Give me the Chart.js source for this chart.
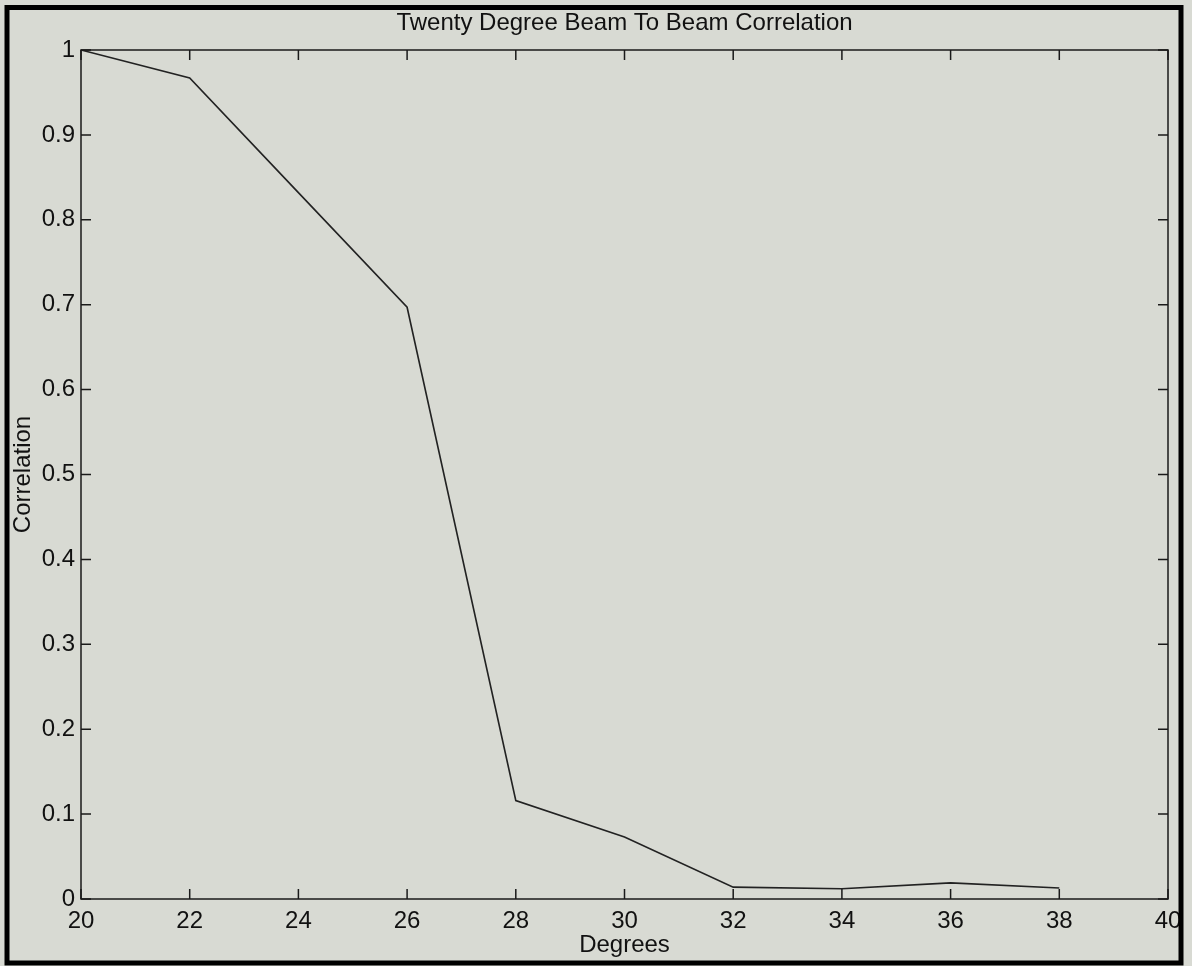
<!DOCTYPE html>
<html>
<head>
<meta charset="utf-8">
<script src="https://cdn.jsdelivr.net/npm/chart.js@4/dist/chart.umd.min.js"></script>
<style>
  html, body { margin: 0; padding: 0; background: #d8dad3; }
  #wrap { width: 1192px; height: 966px; position: relative; }
</style>
</head>
<body>
<div id="wrap"><canvas id="c" width="1192" height="966"></canvas></div>
<script>
// Data
const degrees = [20, 22, 24, 26, 28, 30, 32, 34, 36, 38];
const correlation = [1.0, 0.967, 0.832, 0.697, 0.116, 0.073, 0.014, 0.012, 0.019, 0.013];
const titleText = 'Twenty Degree Beam To Beam Correlation';
const xLabel = 'Degrees';
const yLabel = 'Correlation';

const FONT = "'Liberation Sans', Arial, Helvetica, sans-serif";
const BG = '#d8dad3';

const framePlugin = {
  id: 'frame',
  beforeDraw(chart) {
    const ctx = chart.ctx;
    ctx.save();
    ctx.fillStyle = BG;
    ctx.fillRect(0, 0, chart.width, chart.height);
    ctx.restore();
  },
  afterDatasetsDraw(chart) {
    const ctx = chart.ctx;
    const a = chart.chartArea;
    const xs = chart.scales.x, ys = chart.scales.y;
    ctx.save();
    ctx.strokeStyle = '#1a1a1a';
    ctx.lineWidth = 1.5;
    ctx.strokeRect(a.left, a.top, a.right - a.left, a.bottom - a.top);
    const tl = 10;
    ctx.beginPath();
    xs.ticks.forEach(t => {
      const px = xs.getPixelForValue(t.value);
      ctx.moveTo(px, a.bottom); ctx.lineTo(px, a.bottom - tl);
      ctx.moveTo(px, a.top); ctx.lineTo(px, a.top + tl);
    });
    ys.ticks.forEach(t => {
      const py = ys.getPixelForValue(t.value);
      ctx.moveTo(a.left, py); ctx.lineTo(a.left + tl, py);
      ctx.moveTo(a.right, py); ctx.lineTo(a.right - tl, py);
    });
    ctx.stroke();
    ctx.restore();
  },
  afterDraw(chart) {
    const ctx = chart.ctx;
    ctx.save();
    ctx.strokeStyle = '#000';
    ctx.lineWidth = 5;
    ctx.strokeRect(7, 7.5, 1181 - 7, 963 - 7.5);
    ctx.restore();
  }
};

new Chart(document.getElementById('c'), {
  type: 'line',
  data: {
    datasets: [{
      data: degrees.map((d, i) => ({ x: d, y: correlation[i] })),
      borderColor: '#222',
      borderWidth: 1.6,
      pointRadius: 0,
      tension: 0,
      fill: false
    }]
  },
  options: {
    responsive: false,
    animation: false,
    devicePixelRatio: 1,
    layout: { padding: { left: 0, right: 24, top: 0, bottom: 0 } },
    plugins: {
      legend: { display: false },
      tooltip: { enabled: false },
      title: {
        display: true,
        text: titleText,
        fullSize: false,
        color: '#111',
        font: { family: FONT, size: 24, weight: 'normal', lineHeight: 1.2 },
        padding: { top: 9, bottom: 12.2 }
      }
    },
    scales: {
      x: {
        type: 'linear',
        min: 20, max: 40,
        grid: { display: false, drawTicks: false },
        border: { display: false },
        ticks: {
          stepSize: 2,
          color: '#111',
          padding: 8,
          maxRotation: 0,
          font: { family: FONT, size: 24 }
        },
        title: {
          display: true,
          text: xLabel,
          color: '#111',
          font: { family: FONT, size: 24, lineHeight: 1.2 },
          padding: { top: 6, bottom: 6 }
        },
        afterFit(scale) { scale.height = 67; }
      },
      y: {
        type: 'linear',
        min: 0, max: 1,
        grid: { display: false, drawTicks: false },
        border: { display: false },
        ticks: {
          stepSize: 0.1,
          color: '#111',
          padding: 6,
          font: { family: FONT, size: 24 },
          callback: v => String(Number(v.toFixed(1)))
        },
        title: {
          display: true,
          text: yLabel,
          color: '#111',
          font: { family: FONT, size: 24, lineHeight: 1.2 },
          padding: { top: 9, bottom: 9 }
        },
        afterFit(scale) { scale.width = 81; }
      }
    }
  },
  plugins: [framePlugin]
});
</script>
</body>
</html>
